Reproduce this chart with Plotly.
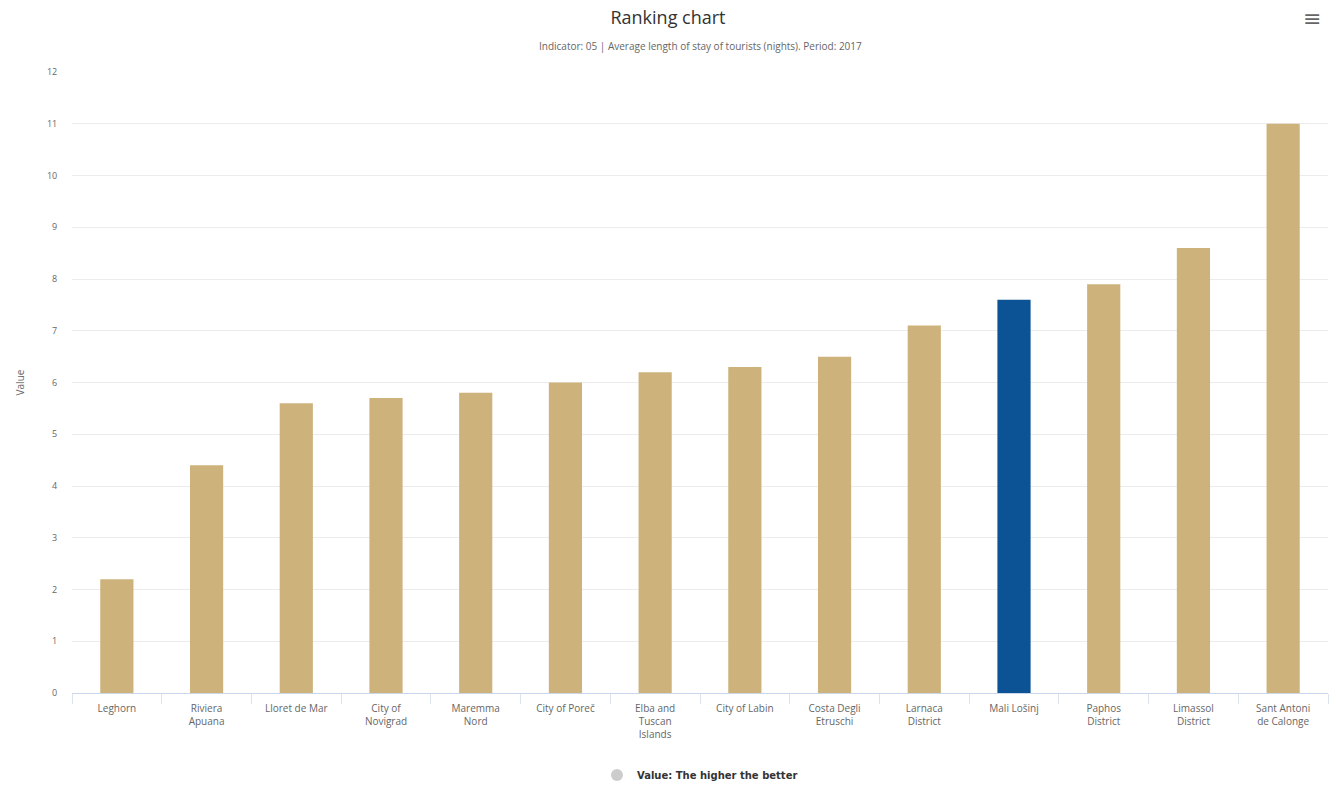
import plotly.graph_objects as go

categories = ["Leghorn", "Riviera<br>Apuana", "Lloret de Mar", "City of<br>Novigrad", "Maremma<br>Nord",
              "City of Poreč", "Elba and<br>Tuscan<br>Islands", "City of Labin", "Costa Degli<br>Etruschi",
              "Larnaca<br>District", "Mali Lošinj", "Paphos<br>District", "Limassol<br>District",
              "Sant Antoni<br>de Calonge"]
values = [2.2, 4.4, 5.6, 5.7, 5.8, 6.0, 6.2, 6.3, 6.5, 7.1, 7.6, 7.9, 8.6, 11.0]
highlight = "Mali Lošinj"

TAN = "#cdb37b"
BLUE = "#0b5394"
colors = [BLUE if c == highlight else TAN for c in categories]

fig = go.Figure()
fig.add_trace(go.Bar(x=categories, y=values, marker=dict(color=colors, line=dict(width=0)),
                     width=0.37, showlegend=False))
fig.add_trace(go.Scatter(x=[categories[0]], y=[None], mode="markers",
                         marker=dict(symbol="circle", size=10, color="#cccccc"),
                         name="<b>Value: The higher the better</b>", showlegend=True))

fig.update_layout(
    width=1336, height=788,
    margin=dict(l=72, r=8, t=72, b=95, autoexpand=False),
    paper_bgcolor="white", plot_bgcolor="white",
    font=dict(family="Open Sans, DejaVu Sans, sans-serif", color="#666666", size=10),
    title=dict(text="Ranking chart", x=0.5, xanchor="center", y=1 - 18 / 788, yanchor="middle",
               yref="container", font=dict(size=18, color="#333333")),
    showlegend=True,
    legend=dict(orientation="h", x=0.5, xanchor="center", yref="container", y=1 - 775 / 788,
                yanchor="middle",
                font=dict(family="DejaVu Sans, sans-serif", size=10, color="#333333"),
                itemsizing="constant"),
    bargap=0.63,
)
fig.add_annotation(text="Indicator: 05 | Average length of stay of tourists (nights). Period: 2017",
                   xref="paper", yref="paper", x=0.5, y=1.042, xanchor="center", yanchor="middle",
                   showarrow=False, font=dict(size=10, color="#666666"))
fig.add_annotation(text="≡", xref="paper", yref="paper", x=0.987, y=1.088, xanchor="center",
                   yanchor="middle", showarrow=False, font=dict(size=22, color="#666666"))

fig.update_yaxes(range=[0, 12], dtick=1, showgrid=True, gridcolor="#ececec", gridwidth=1,
                 zeroline=False, showline=False, ticks="outside", ticklen=12, tickcolor="white",
                 title=dict(text="Value", font=dict(size=10, color="#666666"), standoff=20),
                 tickfont=dict(size=9, color="#666666"))
fig.update_xaxes(range=[-0.5, len(categories) - 0.5], showline=True, linecolor="#ccd6eb", linewidth=1,
                 ticks="outside", tickson="boundaries",
                 ticklen=10, tickcolor="#dde3ee", showgrid=False, ticklabelstandoff=6,
                 tickfont=dict(size=10, color="#666666"), tickangle=0)

fig.write_html("out.html")
